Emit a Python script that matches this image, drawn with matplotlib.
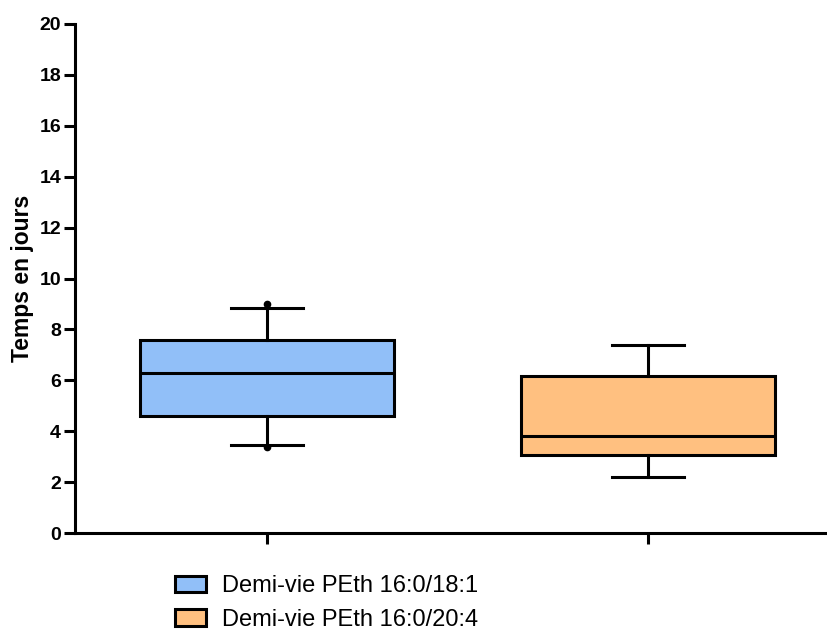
import matplotlib
matplotlib.use("Agg")
import matplotlib.pyplot as plt
from matplotlib.patches import Patch

plt.rcParams['font.family'] = ['Liberation Sans', 'DejaVu Sans']

labels = ["Demi-vie PEth 16:0/18:1", "Demi-vie PEth 16:0/20:4"]
whislo = [3.45, 2.2]
q1 = [4.6, 3.05]
med = [6.3, 3.8]
q3 = [7.6, 6.15]
whishi = [8.85, 7.4]
point_vals = [[9.0, 3.38], []]
colors = ["#91bff8", "#ffc080"]
yticks = [0, 2, 4, 6, 8, 10, 12, 14, 16, 18, 20]

fig = plt.figure(figsize=(8.28, 6.31), dpi=100)
ax = fig.add_axes([75/828, 1-533/631, (826-75)/828, (533-24)/631])

stats = []
for i in range(len(labels)):
    stats.append(dict(med=med[i], q1=q1[i], q3=q3[i], whislo=whislo[i], whishi=whishi[i], fliers=[], label=labels[i]))

positions = [1, 2]
bp = ax.bxp(stats, positions=positions, widths=0.667, patch_artist=True, showfliers=False,
            boxprops=dict(linewidth=2.2, edgecolor='black'),
            medianprops=dict(color='black', linewidth=2.2),
            whiskerprops=dict(color='black', linewidth=2.2),
            capprops=dict(color='black', linewidth=2.2), capwidths=0.19)
for patch, c in zip(bp['boxes'], colors):
    patch.set_facecolor(c)

for p, vals in zip(positions, point_vals):
    if vals:
        ax.plot([p]*len(vals), vals, 'o', color='black', markersize=4.5, zorder=5)

ax.set_xlim(0.496, 2.467)
ax.set_ylim(0, 20)
ax.set_yticks(yticks)
ax.set_yticklabels([str(v) for v in yticks], fontsize=14, fontweight='bold')
ax.set_xticks(positions)
ax.set_xticklabels(['', ''])
ax.tick_params(axis='both', direction='out', length=8, width=2.2)
ax.tick_params(axis='y', pad=2)
for s in ['top', 'right']:
    ax.spines[s].set_visible(False)
for s in ['left', 'bottom']:
    ax.spines[s].set_linewidth(2.2)
ax.set_ylabel("Temps en jours", fontsize=16.5, fontweight='bold', labelpad=4)

handles = [Patch(facecolor=c, edgecolor='black', linewidth=2.2, label=l) for c, l in zip(colors, labels)]
fig.legend(handles=handles, loc='upper left', bbox_to_anchor=(175/828, 1-575/631), frameon=False,
           borderpad=0, borderaxespad=0, fontsize=17, handlelength=1.31, handleheight=0.68,
           handletextpad=0.68, labelspacing=0.5)

fig.savefig("out.png", dpi=100)
